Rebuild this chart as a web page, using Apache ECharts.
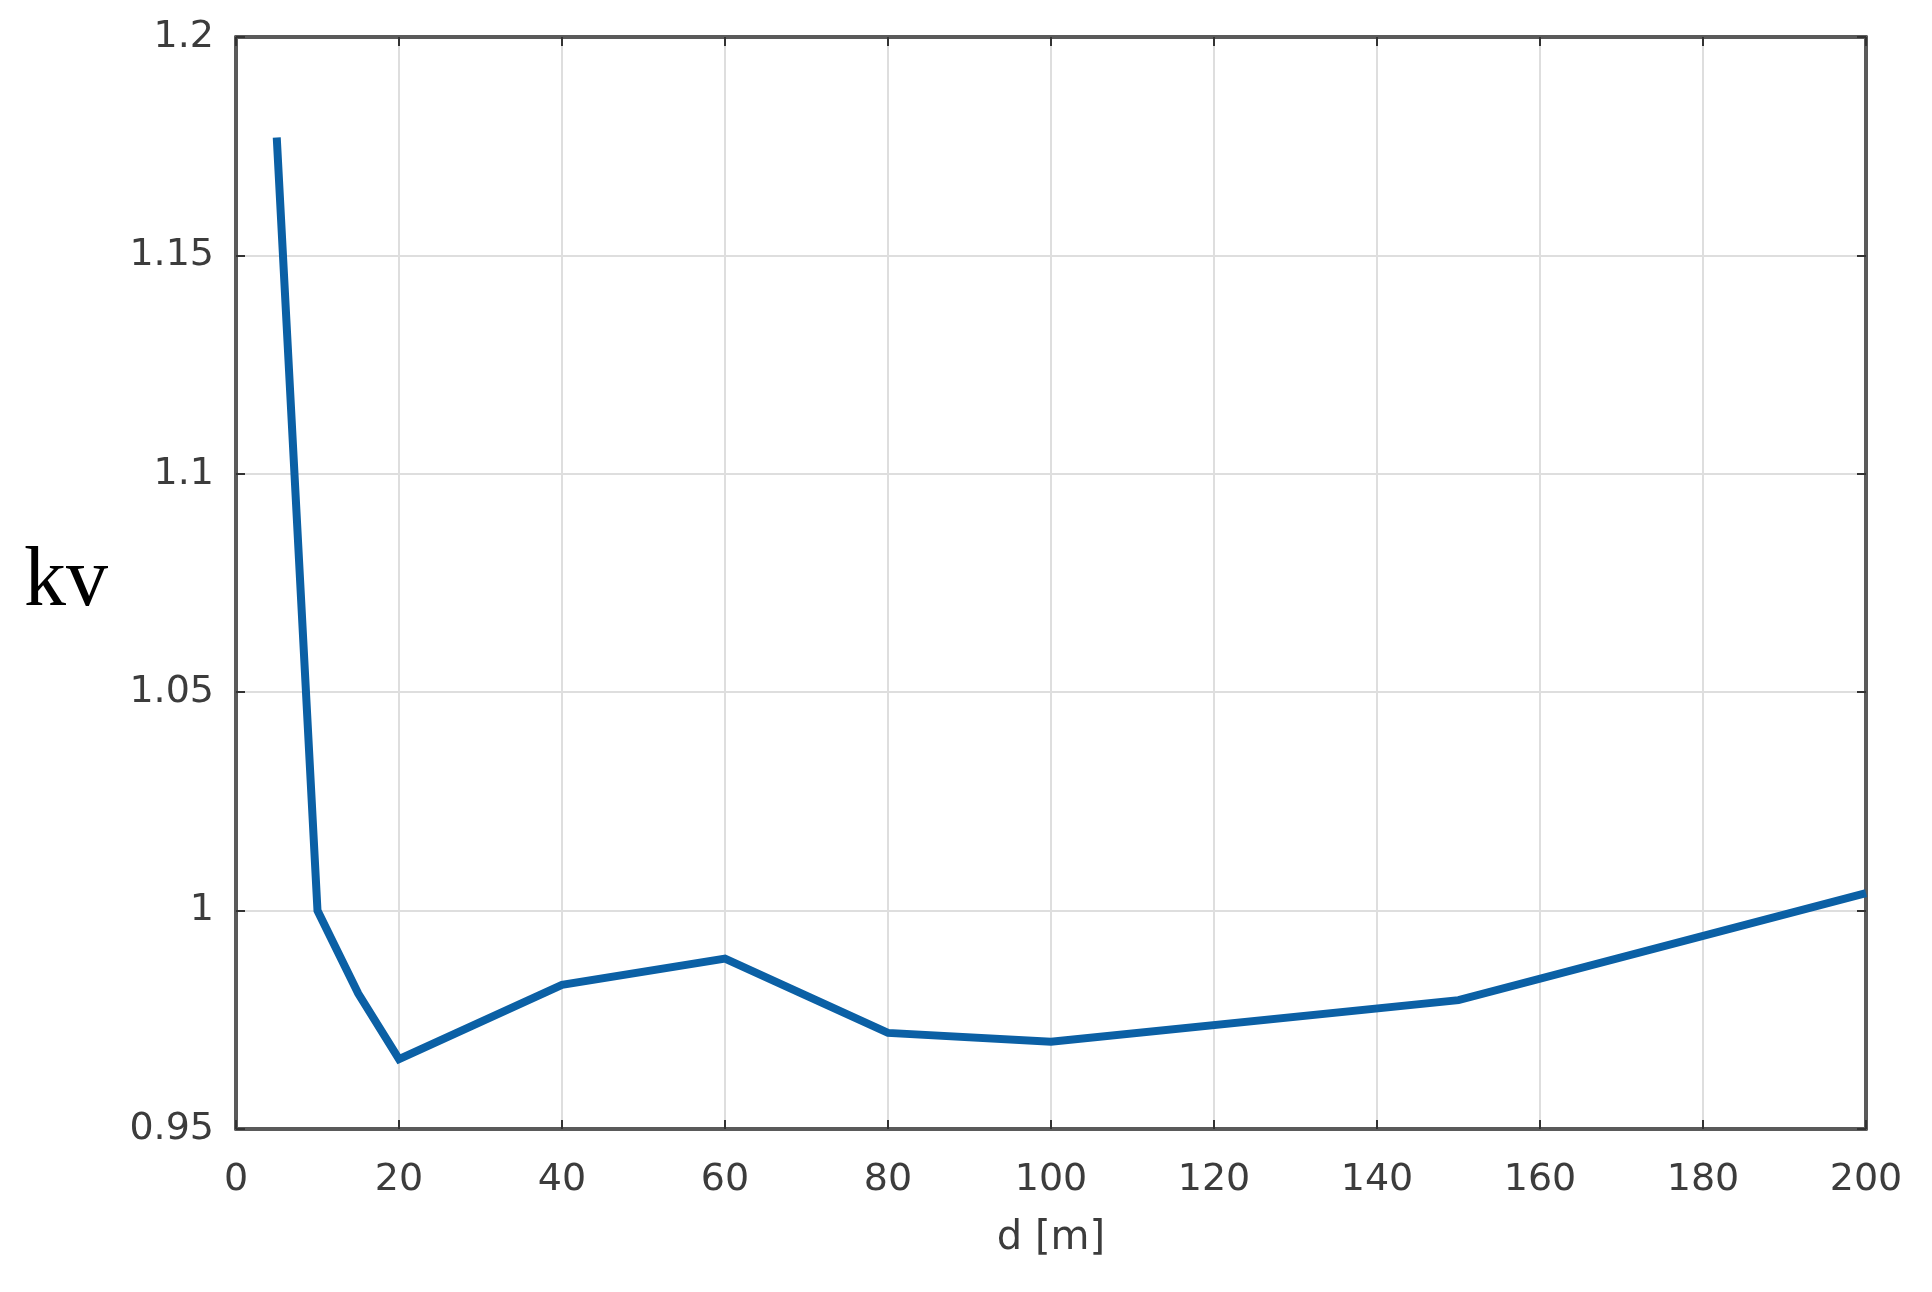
<!DOCTYPE html>
<html>
<head>
<meta charset="utf-8">
<script src="https://cdn.jsdelivr.net/npm/echarts@6/dist/echarts.min.js"></script>
<style>
html,body{margin:0;padding:0;background:#fff;}
#chart{width:1932px;height:1292px;}
</style>
</head>
<body>
<div id="chart"></div>
<script>
// Data
const distances = [5, 10, 15, 20, 40, 60, 80, 100, 150, 200];
const kvValues = [1.177, 1.0, 0.981, 0.966, 0.983, 0.989, 0.972, 0.970, 0.9795, 1.004];
const xTickLabels = ['0','20','40','60','80','100','120','140','160','180','200'];
const yTickLabels = ['0.95','1','1.05','1.1','1.15','1.2'];
const xAxisTitle = 'd [m]';
const yAxisTitle = 'kv';

const axisColor = '#5a5a5a';
const textColor = '#3c3c3c';
const gridColor = '#dedede';
const labelFont = 'DejaVu Sans, Liberation Sans, Arial, sans-serif';

const chart = echarts.init(document.getElementById('chart'));
const seriesData = distances.map((d, i) => [d, kvValues[i]]);

const commonX = {
  type: 'value', min: 0, max: 200, interval: 20,
  axisLine: {show: true, onZero: false, lineStyle: {color: axisColor, width: 4}},
  axisTick: {show: true, inside: true, length: 9, lineStyle: {color: '#333', width: 2}},
};
const commonY = {
  type: 'value', min: 0.95, max: 1.2, interval: 0.05,
  axisLine: {show: true, onZero: false, lineStyle: {color: axisColor, width: 4}},
  axisTick: {show: true, inside: true, length: 9, lineStyle: {color: '#333', width: 2}},
};

chart.setOption({
  animation: false,
  backgroundColor: '#fff',
  grid: {left: 236, right: 66, top: 37, bottom: 163, containLabel: false},
  xAxis: [
    Object.assign({}, commonX, {
      position: 'bottom',
      name: xAxisTitle, nameLocation: 'middle', nameGap: 90,
      nameTextStyle: {color: textColor, fontSize: 40, fontFamily: labelFont},
      axisLabel: {color: textColor, fontSize: 38, margin: 32, fontFamily: labelFont,
        formatter: (v, i) => xTickLabels[i]},
      splitLine: {show: true, lineStyle: {color: gridColor, width: 2}}
    }),
    Object.assign({}, commonX, {
      position: 'top',
      axisLabel: {show: false},
      splitLine: {show: false}
    })
  ],
  yAxis: [
    Object.assign({}, commonY, {
      position: 'left',
      name: yAxisTitle, nameLocation: 'middle', nameRotate: 0, nameGap: 128,
      nameTextStyle: {color: '#000', fontSize: 84, fontFamily: 'Liberation Serif, Times New Roman, serif',
        padding: [0, 0, 72, 0]},
      axisLabel: {color: textColor, fontSize: 38, margin: 22, fontFamily: labelFont,
        padding: [12, 0, 0, 0],
        formatter: (v, i) => yTickLabels[i]},
      splitLine: {show: true, lineStyle: {color: gridColor, width: 2}}
    }),
    Object.assign({}, commonY, {
      position: 'right',
      axisLabel: {show: false},
      splitLine: {show: false}
    })
  ],
  series: [{
    type: 'line',
    xAxisIndex: 0, yAxisIndex: 0,
    data: seriesData,
    showSymbol: false,
    symbol: 'none',
    lineStyle: {color: '#0b60a5', width: 8, cap: 'butt', join: 'miter'}
  }]
});
</script>
</body>
</html>
